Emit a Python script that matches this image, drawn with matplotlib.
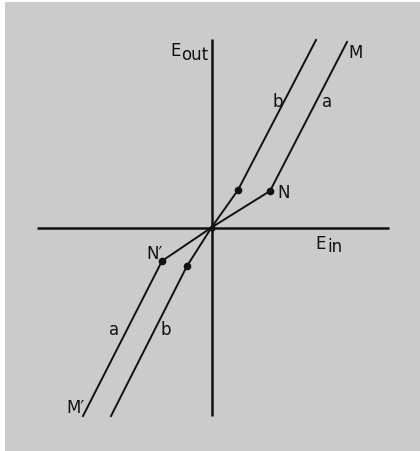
import matplotlib
matplotlib.use('Agg')
import matplotlib.pyplot as plt
import matplotlib.patches as mpatches

# transfer characteristic, two branches (a: through N, b: steeper), E_in / E_out units
a_x = [-12.85, -4.95, 0.0, 5.85, 13.55]
a_y = [-18.85, -3.35, 0.0, 3.65, 18.55]
b_x = [-10.05, -2.45, 0.0, 2.65, 10.45]
b_y = [-18.85, -3.85, 0.0, 3.75, 18.75]
dot_idx = [1, 3]

axis_x = [-17.45, 17.75]
axis_y = [-18.85, 18.85]

fig = plt.figure(figsize=(4.2, 4.52), dpi=100)
fig.patch.set_facecolor('white')
ax = fig.add_axes([0, 0, 1, 1])
ax.set_xlim(-21.15, 20.85)
ax.set_ylim(-22.35, 22.85)
ax.axis('off')

# gray photo background, thin white edge top/left
ax.add_patch(mpatches.Rectangle((-20.65, -22.35), 41.5, 44.9,
                                facecolor='#cbcbcb', edgecolor='none', zorder=0))

# axes
ax.plot(axis_x, [0, 0], color='#111111', lw=1.8, solid_capstyle='butt', zorder=2)
ax.plot([0, 0], axis_y, color='#111111', lw=1.8, solid_capstyle='butt', zorder=2)

# branches
ax.plot(a_x, a_y, color='#111111', lw=1.4, zorder=3)
ax.plot(b_x, b_y, color='#111111', lw=1.4, zorder=3)
ax.plot([a_x[i] for i in dot_idx], [a_y[i] for i in dot_idx], 'o', color='#111111', ms=4.5, zorder=4)
ax.plot([b_x[i] for i in dot_idx], [b_y[i] for i in dot_idx], 'o', color='#111111', ms=4.5, zorder=4)
ax.plot([0], [0], 'o', color='#111111', ms=3.5, zorder=4)

fs = 12
kw = dict(fontsize=fs, ha='left', va='baseline', family='DejaVu Sans', color='#111111', zorder=5)
ax.text(-4.15, 17.2, 'E', **kw)
ax.text(-3.05, 16.85, 'out', **kw)
ax.text(10.35, -2.05, 'E', **kw)
ax.text(11.55, -2.35, 'in', **kw)

ax.text(13.65, 17.05, 'M', **kw)
ax.text(6.05, 12.15, 'b', **kw)
ax.text(11.05, 12.15, 'a', **kw)
ax.text(6.55, 3.05, 'N', **kw)
ax.text(-6.55, -3.05, 'N\u2032', **kw)
ax.text(-10.25, -10.65, 'a', **kw)
ax.text(-5.15, -10.65, 'b', **kw)
ax.text(-14.55, -18.45, 'M\u2032', **kw)

plt.savefig('out.png', dpi=100, facecolor='white')
